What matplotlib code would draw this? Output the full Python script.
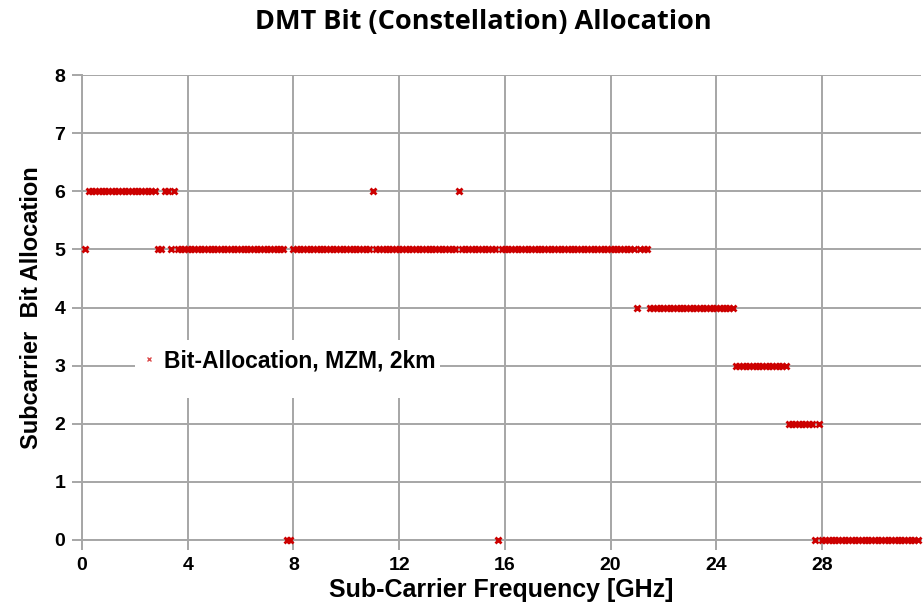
import numpy as np
import matplotlib
matplotlib.use("Agg")
import matplotlib.pyplot as plt
from matplotlib.patches import Rectangle

# DMT sub-carrier grid: 125 MHz spacing
carrier_step = 0.125  # GHz
n_carriers = 253

# bit allocation stored as runs of equal value (bits, number of carriers)
run_bits = [5, 6, 5, 6, 5, 6, 5, 0, 5, 6, 5, 6, 5, 0, 5, 4, 5, 4, 3, 2, 0, 2, 0]
run_len = [1, 21, 2, 2, 1, 1, 33, 2, 24, 1, 25, 1, 11, 1, 41, 1, 3, 26, 16, 8, 1, 1, 30]

x_ticks = [0, 4, 8, 12, 16, 20, 24, 28]
y_ticks = [0, 1, 2, 3, 4, 5, 6, 7, 8]

freq = np.arange(1, n_carriers + 1) * carrier_step
bits = np.repeat(run_bits, run_len)

red = "#CC0000"
grid_c = "#A6A6A6"
W, H = 924, 610
lab_font = "Liberation Sans"

fig = plt.figure(figsize=(W / 100, H / 100), dpi=100)
ax = fig.add_axes([82 / W, 70 / H, 839 / W, 465 / H])

ax.plot(freq, bits, linestyle="none", marker="x", ms=5, mew=2.0,
        color=red, label="Bit-Allocation, MZM, 2km", clip_on=False, zorder=3)

ax.set_xlim(0, 31.75)
ax.set_ylim(0, 8)
ax.set_xticks(x_ticks)
ax.set_yticks(y_ticks)
ax.grid(True, color=grid_c, lw=1.4)
ax.set_axisbelow(True)
for s in ["top", "right"]:
    ax.spines[s].set_visible(False)
for s in ["left", "bottom"]:
    ax.spines[s].set_color(grid_c)
    ax.spines[s].set_linewidth(1.4)
ax.tick_params(axis="both", colors=grid_c, width=1.4, length=7,
               labelcolor="black", labelsize=14, pad=5)
for lab in ax.get_xticklabels() + ax.get_yticklabels():
    lab.set_fontfamily(lab_font)
    lab.set_fontweight("bold")

ax.set_xlabel("Sub-Carrier Frequency [GHz]", fontsize=18, fontweight="bold",
              family=lab_font, labelpad=3)
ax.set_ylabel("Subcarrier  Bit Allocation", fontsize=17, fontweight="bold",
              family=lab_font, labelpad=8)

fig.text(483 / W, 1 - 22 / H, "DMT Bit (Constellation) Allocation",
         ha="center", va="center", fontsize=19.5, fontweight="bold",
         family="Open Sans")

# legend sits on a white patch that hides the grid behind it
ax.add_patch(Rectangle((0.063, 0.305), 0.364, 0.125, transform=ax.transAxes,
                       facecolor="white", edgecolor="none", zorder=2))
leg = ax.legend(loc="center left", bbox_to_anchor=(0.066, 0.386), frameon=False,
                borderpad=0, borderaxespad=0, handlelength=1.0, handletextpad=0.15,
                markerscale=0.7,
                prop={"family": lab_font, "weight": "bold", "size": 16.5})
leg.set_zorder(4)
for h in leg.legend_handles:
    h.set_markeredgewidth(1.0)
    h.set_alpha(0.7)

fig.savefig("out.png", dpi=100)
